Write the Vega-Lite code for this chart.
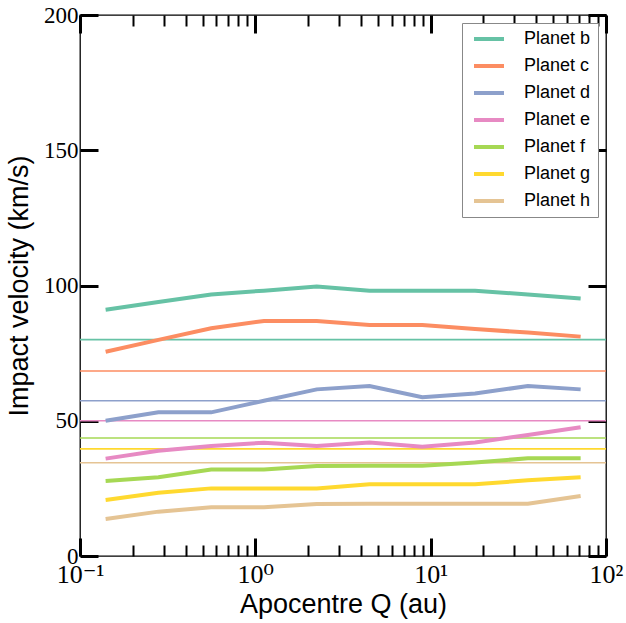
{
  "$schema": "https://vega.github.io/schema/vega-lite/v6.json",
  "width": 526,
  "height": 541,
  "autosize": {"type": "none"},
  "padding": {"left": 80, "top": 15, "right": 20, "bottom": 67},
  "background": "white",
  "config": {
    "view": {"stroke": "black", "strokeWidth": 1.3},
    "axis": {"grid": false, "domain": false, "labelFlush": false, "labelOverlap": false, "tickColor": "black", "labelColor": "black", "titleColor": "black"}
  },
  "datasets": {
    "lines": [
      {"planet": "Planet b", "Q": 0.14, "v": 91.0}, {"planet": "Planet b", "Q": 0.28, "v": 93.9}, {"planet": "Planet b", "Q": 0.56, "v": 96.7}, {"planet": "Planet b", "Q": 1.12, "v": 98.1}, {"planet": "Planet b", "Q": 2.24, "v": 99.6}, {"planet": "Planet b", "Q": 4.48, "v": 98.1}, {"planet": "Planet b", "Q": 8.96, "v": 98.1}, {"planet": "Planet b", "Q": 17.92, "v": 98.1}, {"planet": "Planet b", "Q": 35.84, "v": 96.7}, {"planet": "Planet b", "Q": 71.68, "v": 95.2},
      {"planet": "Planet c", "Q": 0.14, "v": 75.5}, {"planet": "Planet c", "Q": 0.28, "v": 79.9}, {"planet": "Planet c", "Q": 0.56, "v": 84.2}, {"planet": "Planet c", "Q": 1.12, "v": 86.9}, {"planet": "Planet c", "Q": 2.24, "v": 86.9}, {"planet": "Planet c", "Q": 4.48, "v": 85.4}, {"planet": "Planet c", "Q": 8.96, "v": 85.4}, {"planet": "Planet c", "Q": 17.92, "v": 83.9}, {"planet": "Planet c", "Q": 35.84, "v": 82.6}, {"planet": "Planet c", "Q": 71.68, "v": 81.1},
      {"planet": "Planet d", "Q": 0.14, "v": 50.0}, {"planet": "Planet d", "Q": 0.28, "v": 53.1}, {"planet": "Planet d", "Q": 0.56, "v": 53.1}, {"planet": "Planet d", "Q": 1.12, "v": 57.4}, {"planet": "Planet d", "Q": 2.24, "v": 61.6}, {"planet": "Planet d", "Q": 4.48, "v": 62.8}, {"planet": "Planet d", "Q": 8.96, "v": 58.7}, {"planet": "Planet d", "Q": 17.92, "v": 60.1}, {"planet": "Planet d", "Q": 35.84, "v": 62.8}, {"planet": "Planet d", "Q": 71.68, "v": 61.6},
      {"planet": "Planet e", "Q": 0.14, "v": 36.0}, {"planet": "Planet e", "Q": 0.28, "v": 38.9}, {"planet": "Planet e", "Q": 0.56, "v": 40.7}, {"planet": "Planet e", "Q": 1.12, "v": 41.9}, {"planet": "Planet e", "Q": 2.24, "v": 40.7}, {"planet": "Planet e", "Q": 4.48, "v": 42.0}, {"planet": "Planet e", "Q": 8.96, "v": 40.4}, {"planet": "Planet e", "Q": 17.92, "v": 42.0}, {"planet": "Planet e", "Q": 35.84, "v": 44.7}, {"planet": "Planet e", "Q": 71.68, "v": 47.6},
      {"planet": "Planet f", "Q": 0.14, "v": 27.7}, {"planet": "Planet f", "Q": 0.28, "v": 29.1}, {"planet": "Planet f", "Q": 0.56, "v": 32.0}, {"planet": "Planet f", "Q": 1.12, "v": 32.0}, {"planet": "Planet f", "Q": 2.24, "v": 33.3}, {"planet": "Planet f", "Q": 4.48, "v": 33.4}, {"planet": "Planet f", "Q": 8.96, "v": 33.4}, {"planet": "Planet f", "Q": 17.92, "v": 34.6}, {"planet": "Planet f", "Q": 35.84, "v": 36.1}, {"planet": "Planet f", "Q": 71.68, "v": 36.1},
      {"planet": "Planet g", "Q": 0.14, "v": 20.7}, {"planet": "Planet g", "Q": 0.28, "v": 23.4}, {"planet": "Planet g", "Q": 0.56, "v": 25.0}, {"planet": "Planet g", "Q": 1.12, "v": 25.0}, {"planet": "Planet g", "Q": 2.24, "v": 25.0}, {"planet": "Planet g", "Q": 4.48, "v": 26.5}, {"planet": "Planet g", "Q": 8.96, "v": 26.5}, {"planet": "Planet g", "Q": 17.92, "v": 26.5}, {"planet": "Planet g", "Q": 35.84, "v": 28.0}, {"planet": "Planet g", "Q": 71.68, "v": 29.1},
      {"planet": "Planet h", "Q": 0.14, "v": 13.7}, {"planet": "Planet h", "Q": 0.28, "v": 16.4}, {"planet": "Planet h", "Q": 0.56, "v": 18.0}, {"planet": "Planet h", "Q": 1.12, "v": 18.0}, {"planet": "Planet h", "Q": 2.24, "v": 19.2}, {"planet": "Planet h", "Q": 4.48, "v": 19.3}, {"planet": "Planet h", "Q": 8.96, "v": 19.3}, {"planet": "Planet h", "Q": 17.92, "v": 19.3}, {"planet": "Planet h", "Q": 35.84, "v": 19.3}, {"planet": "Planet h", "Q": 71.68, "v": 22.2}
    ],
    "esc": [
      {"planet": "Planet b", "vesc": 80.0},
      {"planet": "Planet c", "vesc": 68.4},
      {"planet": "Planet d", "vesc": 57.4},
      {"planet": "Planet e", "vesc": 50.0},
      {"planet": "Planet f", "vesc": 43.6},
      {"planet": "Planet g", "vesc": 39.6},
      {"planet": "Planet h", "vesc": 34.5}
    ]
  },
  "layer": [
    {
      "data": {"name": "esc"},
      "mark": {"type": "rule", "strokeWidth": 1.6},
      "encoding": {
        "y": {"field": "vesc", "type": "quantitative", "scale": {"domain": [0, 200], "nice": false, "zero": false},
          "axis": {"orient": "left", "values": [0, 50, 100, 150, 200], "tickSize": -18, "tickWidth": 3, "labelFont": "Liberation Serif, Times New Roman, DejaVu Serif, serif", "labelFontSize": 23, "labelPadding": 20, "title": "Impact velocity (km/s)", "titleFont": "Liberation Sans, Arial, sans-serif", "titleFontSize": 27, "titleFontWeight": "normal", "titleX": -61, "titleBaseline": "middle"}},
        "color": {"field": "planet", "type": "nominal",
          "scale": {"domain": ["Planet b", "Planet c", "Planet d", "Planet e", "Planet f", "Planet g", "Planet h"], "range": ["#66c2a5", "#fc8d62", "#8da0cb", "#e78ac3", "#a6d854", "#ffd92f", "#e5c494"]}}
      }
    },
    {
      "data": {"name": "lines"},
      "mark": {"type": "line", "strokeWidth": 4},
      "encoding": {
        "x": {"field": "Q", "type": "quantitative", "scale": {"type": "log", "domain": [0.1, 100], "nice": false},
          "axis": {"orient": "bottom", "values": [0.1, 1, 10, 100], "tickSize": -18, "tickWidth": 3, "labelFont": "Liberation Serif, Times New Roman, DejaVu Serif, serif", "labelFontSize": 26, "labelPadding": 23, "labelExpr": "datum.value < 0.5 ? '10⁻¹' : datum.value < 5 ? '10⁰' : datum.value < 50 ? '10¹' : '10²'", "title": "Apocentre Q (au)", "titleFont": "Liberation Sans, Arial, sans-serif", "titleFontSize": 27, "titleFontWeight": "normal", "titlePadding": 4}},
        "y": {"field": "v", "type": "quantitative", "axis": {"orient": "right", "values": [0, 50, 100, 150, 200], "tickSize": -18, "tickWidth": 3, "labels": false, "title": null}},
        "color": {"field": "planet", "type": "nominal",
          "legend": {"title": null, "orient": "top-right", "offset": 8, "symbolType": "M-5,0H5", "symbolSize": 36, "symbolStrokeWidth": 4, "symbolOffset": 11, "labelFont": "Liberation Sans, Arial, sans-serif", "labelFontSize": 18, "labelColor": "black", "labelOffset": 26, "rowPadding": 9, "padding": 7, "strokeColor": "#888888", "fillColor": "white", "cornerRadius": 0}}
      }
    },
    {
      "data": {"name": "lines"},
      "mark": {"type": "point", "opacity": 0},
      "encoding": {
        "x": {"field": "Q", "type": "quantitative", "axis": {"orient": "top", "values": [0.1, 1, 10, 100], "tickSize": -18, "tickWidth": 3, "labels": false, "title": null}}
      }
    },
    {
      "data": {"name": "lines"},
      "mark": {"type": "point", "opacity": 0},
      "encoding": {
        "x": {"field": "Q", "type": "quantitative", "axis": {"orient": "bottom", "values": [0.2, 0.3, 0.4, 0.5, 0.6, 0.7, 0.8, 0.9, 2, 3, 4, 5, 6, 7, 8, 9, 20, 30, 40, 50, 60, 70, 80, 90], "tickSize": -11, "tickWidth": 2, "labels": false, "title": null}}
      }
    },
    {
      "data": {"name": "lines"},
      "mark": {"type": "point", "opacity": 0},
      "encoding": {
        "x": {"field": "Q", "type": "quantitative", "axis": {"orient": "top", "values": [0.2, 0.3, 0.4, 0.5, 0.6, 0.7, 0.8, 0.9, 2, 3, 4, 5, 6, 7, 8, 9, 20, 30, 40, 50, 60, 70, 80, 90], "tickSize": -11, "tickWidth": 2, "labels": false, "title": null}}
      }
    }
  ],
  "resolve": {"axis": {"x": "independent", "y": "independent"}}
}
